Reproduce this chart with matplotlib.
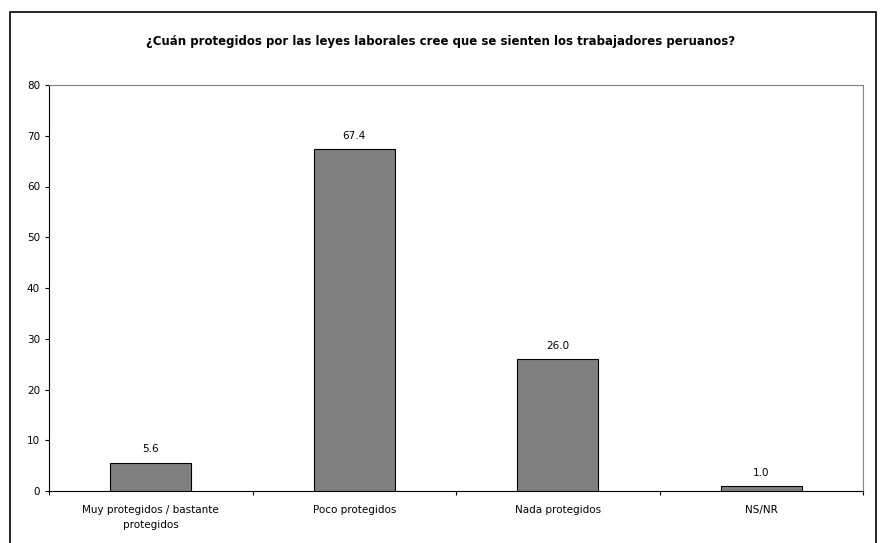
#!/usr/bin/env python3

import matplotlib
matplotlib.use("Agg")
import matplotlib.pyplot as plt
import numpy as np
from matplotlib.patches import Rectangle

categories = [
  "Muy protegidos / bastante\nprotegidos",
  "Poco protegidos",
  "Nada protegidos",
  "NS/NR",
]
values = [5.6, 67.4, 26.0, 1.0]
title = "¿Cuán protegidos por las leyes laborales cree que se sienten los trabajadores peruanos?"

W, H = 882, 543
fig = plt.figure(figsize=(W/100, H/100), dpi=100)
fig.patch.set_facecolor("white")

# outer frame like the spreadsheet chart area
fig.patches.append(Rectangle(
  (10/W, -0.01), 866/W, 1.01 - 12/H,
  transform=fig.transFigure, fill=False, ec="black", lw=1.2
))

ax = fig.add_axes([49/W, 1 - 491/H, 814/W, (491 - 85)/H])
index = np.arange(len(categories))
rects = ax.bar(index, values, 0.4, color="#808080", ec="black", lw=0.8, zorder=3)

for rect, v in zip(rects, values):
  ax.text(
    rect.get_x() + rect.get_width()/2,
    rect.get_height() + 1.6,
    "{:.1f}".format(v),
    ha="center",
    va="bottom",
    fontsize=7.5
  )

ax.set_xlim(-0.5, len(categories) - 0.5)
ax.set_ylim(0, 80)
ax.set_yticks(range(0, 81, 10))
ax.set_xticks(index)
ax.set_xticklabels(categories, fontsize=7.5, linespacing=1.6)
ax.set_xticks(np.arange(len(categories) + 1) - 0.5, minor=True)
ax.tick_params(axis="x", which="major", length=0, pad=10)
ax.tick_params(axis="x", which="minor", length=3, width=0.8)
ax.tick_params(axis="y", labelsize=7.5, length=3, width=0.8)

ax.spines["left"].set_color("black")
ax.spines["bottom"].set_color("black")
ax.spines["top"].set_color("#808080")
ax.spines["right"].set_color("#808080")

fig.text(0.5, 1 - 42/H, title, ha="center", va="center", fontsize=8.5, fontweight="bold")

fig.savefig("out.png", dpi=100)
